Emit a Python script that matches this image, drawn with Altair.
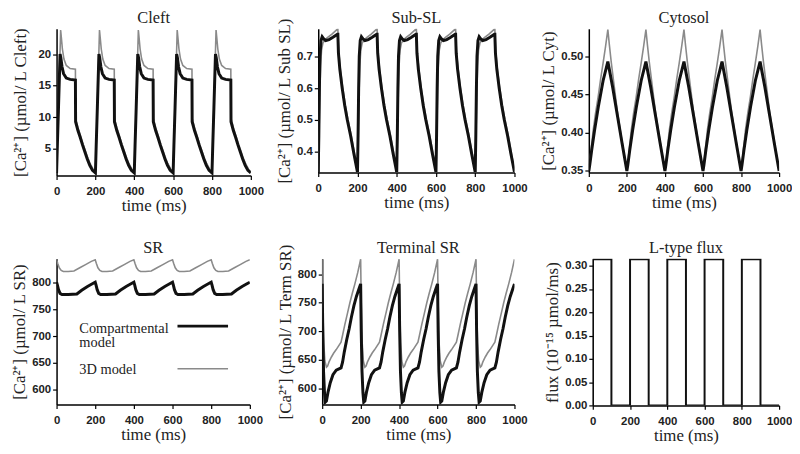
import altair as alt
import pandas as pd

N_BEATS = 5
PERIOD = 200
X_TICKS = [0, 200, 400, 600, 800, 1000]
BLACK = "#111111"
GRAY = "#8a8a8a"
SERIES = ["Compartmental model", "3D model"]
LEGEND_LABELS = ["Compartmental\nmodel", "3D model"]

# ---- one beat (ms within the 200 ms cycle) ----
CLEFT_T_CMP = [0, 4, 10, 18, 22, 28, 36, 50, 70, 97, 98, 110, 122, 134, 146, 158, 171, 185, 200]
CLEFT_CMP = [1.2, 5.5, 11.6, 20.0, 19.4, 18.0, 16.9, 16.2, 16.0, 15.9, 9.3, 7.9, 6.8, 5.6, 4.5, 3.4, 2.4, 1.6, 1.2]
CLEFT_T_3D = [0, 5, 12, 21, 25, 30, 38, 50, 70, 97, 98, 110, 122, 134, 146, 158, 171, 188, 200]
CLEFT_3D = [1.3, 6.5, 14.0, 23.8, 22.5, 20.8, 19.2, 18.2, 17.7, 17.6, 9.8, 8.4, 7.2, 6.0, 4.9, 3.8, 2.8, 1.8, 1.3]

SUB_T_CMP = [0, 3, 6, 9, 14, 20, 28, 38, 55, 75, 98, 100, 103, 110, 122, 135, 148, 165, 182, 200]
SUB_CMP = [0.335, 0.45, 0.60, 0.70, 0.750, 0.762, 0.755, 0.750, 0.753, 0.760, 0.770, 0.770, 0.71, 0.66, 0.60, 0.545, 0.50, 0.45, 0.392, 0.335]
SUB_T_3D = [0, 4, 8, 12, 17, 24, 32, 45, 70, 98, 100, 104, 112, 124, 137, 150, 167, 184, 200]
SUB_3D = [0.335, 0.45, 0.58, 0.67, 0.72, 0.742, 0.750, 0.758, 0.770, 0.786, 0.786, 0.72, 0.665, 0.605, 0.55, 0.505, 0.455, 0.397, 0.337]

CYT_T_CMP = [0, 5, 15, 30, 50, 75, 100, 125, 150, 175, 200]
CYT_CMP = [0.35, 0.358, 0.377, 0.403, 0.434, 0.468, 0.493, 0.460, 0.423, 0.386, 0.35]
CYT_T_3D = [0, 5, 12, 23, 35, 49, 62, 75, 88, 100, 108, 118, 130, 150, 175, 200]
CYT_3D = [0.35, 0.360, 0.378, 0.403, 0.425, 0.447, 0.470, 0.491, 0.513, 0.535, 0.515, 0.492, 0.468, 0.428, 0.388, 0.35]

SR_T_CMP = [0, 4, 10, 18, 28, 60, 105, 130, 160, 185, 200]
SR_CMP = [801, 796, 787, 780, 778, 778, 779, 786, 793, 798, 801]
SR_T_3D = [0, 6, 14, 24, 35, 60, 90, 120, 150, 180, 200]
SR_3D = [843, 836, 828, 823, 821, 821, 822, 828, 834, 840, 843]

TSR_T_CMP = [0, 3, 7, 12, 16, 22, 30, 42, 56, 73, 98, 106, 115, 128, 140, 152, 165, 178, 191, 200]
TSR_CMP = [783, 700, 630, 592, 576, 578, 593, 610, 624, 632, 636, 646, 664, 686, 704, 725, 745, 761, 774, 783]
TSR_T_3D = [0, 3, 8, 14, 22, 28, 35, 48, 60, 73, 98, 106, 118, 131, 144, 157, 170, 185, 200]
TSR_3D = [826, 750, 680, 648, 637, 639, 646, 655, 662, 668, 681, 693, 712, 731, 750, 767, 783, 803, 826]

FLUX_T = [0, 0, 100, 100, 200]
FLUX = [0.0, 0.314, 0.314, 0.0, 0.0]


def tile(ts, vs):
    rows = []
    for k in range(N_BEATS):
        for t, v in zip(ts, vs):
            if t < PERIOD or k == N_BEATS - 1:
                rows.append((k * PERIOD + t, v))
    return rows


def frame(series_list):
    recs = []
    for name, ts, vs in series_list:
        for i, (t, v) in enumerate(tile(ts, vs)):
            recs.append({"series": name, "i": i, "t": t, "v": v})
    return pd.DataFrame(recs)


PANELS = [
    dict(title="Cleft", ytitle="[Ca²⁺]  (µmol/ L Cleft)", domain=[0.8, 24], ticks=[5, 10, 15, 20], fmt="d",
         w=196, h=148, cmp=(CLEFT_T_CMP, CLEFT_CMP), d3=(CLEFT_T_3D, CLEFT_3D), tpad=9),
    dict(title="Sub-SL", ytitle="[Ca²⁺]  (µmol/ L Sub SL)", domain=[0.334, 0.787], ticks=[0.4, 0.5, 0.6, 0.7], fmt=".1f",
         w=198, h=145, cmp=(SUB_T_CMP, SUB_CMP), d3=(SUB_T_3D, SUB_3D)),
    dict(title="Cytosol", ytitle="[Ca²⁺]  (µmol/ L Cyt)", domain=[0.348, 0.536], ticks=[0.35, 0.40, 0.45, 0.50], fmt=".2f",
         w=192, h=145, cmp=(CYT_T_CMP, CYT_CMP), d3=(CYT_T_3D, CYT_3D)),
    dict(title="SR", ytitle="[Ca²⁺]  (µmol/ L SR)", domain=[572, 845], ticks=[600, 650, 700, 750, 800], fmt="d",
         w=195, h=147, cmp=(SR_T_CMP, SR_CMP), d3=(SR_T_3D, SR_3D), legend=True),
    dict(title="Terminal SR", ytitle="[Ca²⁺]  (µmol/ L Term SR)", domain=[572, 827], ticks=[600, 650, 700, 750, 800], fmt="d",
         w=194, h=147, cmp=(TSR_T_CMP, TSR_CMP), d3=(TSR_T_3D, TSR_3D)),
    dict(title="L-type flux", ytitle="flux (10⁻¹⁵ µmol/ms)", domain=[0, 0.315], ticks=[0, 0.05, 0.10, 0.15, 0.20, 0.25, 0.30], fmt=".2f",
         w=188, h=148, cmp=(FLUX_T, FLUX), d3=None, thin=True),
]


def panel(p):
    series = [(SERIES[0],) + p["cmp"]]
    if p["d3"] is not None:
        series.append((SERIES[1],) + p["d3"])
    df = frame(series)
    x = alt.X("t:Q", scale=alt.Scale(domain=[0, 1000], nice=False),
              axis=alt.Axis(values=X_TICKS, format="d", title="time (ms)", labelFlush=False))
    y = alt.Y("v:Q", scale=alt.Scale(domain=p["domain"], nice=False, zero=False),
              axis=alt.Axis(values=p["ticks"], format=p["fmt"], title=p["ytitle"],
                            titlePadding=p.get("tpad", 3)))
    base = alt.Chart(df).encode(x=x, y=y, order=alt.Order("i:Q"))
    layers = []
    if p["d3"] is not None:
        layers.append(base.transform_filter(alt.datum.series == SERIES[1])
                      .mark_line(color=GRAY, strokeWidth=1.6, clip=True))
    layers.append(base.transform_filter(alt.datum.series == SERIES[0])
                  .mark_line(color=BLACK, strokeWidth=2.0 if p.get("thin") else 3.0, clip=True))
    # panel title as a text mark, a fixed distance above the plot area
    layers.append(alt.Chart(pd.DataFrame({"title": [p["title"]]}))
                  .mark_text(align="center", baseline="alphabetic", font="Liberation Serif",
                             fontSize=16.5, color="#222")
                  .encode(text="title:N", x=alt.value(p["w"] / 2), y=alt.value(-6)))
    if p.get("legend"):
        lt = pd.DataFrame({"label": LEGEND_LABELS})
        txt = alt.Chart(lt).mark_text(align="left", baseline="alphabetic", font="Liberation Serif",
                                      fontSize=14.5, lineBreak="\n", lineHeight=14, color="#222")
        layers.append(txt.transform_filter(alt.datum.label == LEGEND_LABELS[0])
                      .encode(text="label:N", x=alt.value(23), y=alt.value(75)))
        layers.append(txt.transform_filter(alt.datum.label == LEGEND_LABELS[1])
                      .encode(text="label:N", x=alt.value(23), y=alt.value(116)))
        rl = alt.Chart(pd.DataFrame({"series": SERIES}))
        layers.append(rl.transform_filter(alt.datum.series == SERIES[0]).mark_rule(color=BLACK, strokeWidth=3)
                      .encode(x=alt.value(122), x2=alt.value(173), y=alt.value(68)))
        layers.append(rl.transform_filter(alt.datum.series == SERIES[1]).mark_rule(color=GRAY, strokeWidth=1.6)
                      .encode(x=alt.value(122), x2=alt.value(173), y=alt.value(111)))
    return alt.layer(*layers).properties(width=p["w"], height=p["h"])


chart = (
    alt.concat(*[panel(p) for p in PANELS], columns=3, align="none", bounds="full",
               spacing={"row": 26, "column": 12})
    .properties(padding={"left": 2, "top": 0, "right": 0, "bottom": 0})
    .configure_view(stroke=None)
    .configure_axis(domainColor="black", domainWidth=1.5, tickColor="black", tickWidth=1.2, tickSize=4,
                    labelFont="Liberation Sans", labelFontWeight="bold", labelFontSize=11.5, labelColor="#222",
                    titleFont="Liberation Serif", titleFontWeight="normal", titleFontSize=17, titleColor="#222",
                    grid=False, labelPadding=2, titlePadding=3)
    .configure_axisX(labelPadding=6, titlePadding=1)
)

chart.save("out.html", embed_options={"renderer": "svg", "actions": False})
